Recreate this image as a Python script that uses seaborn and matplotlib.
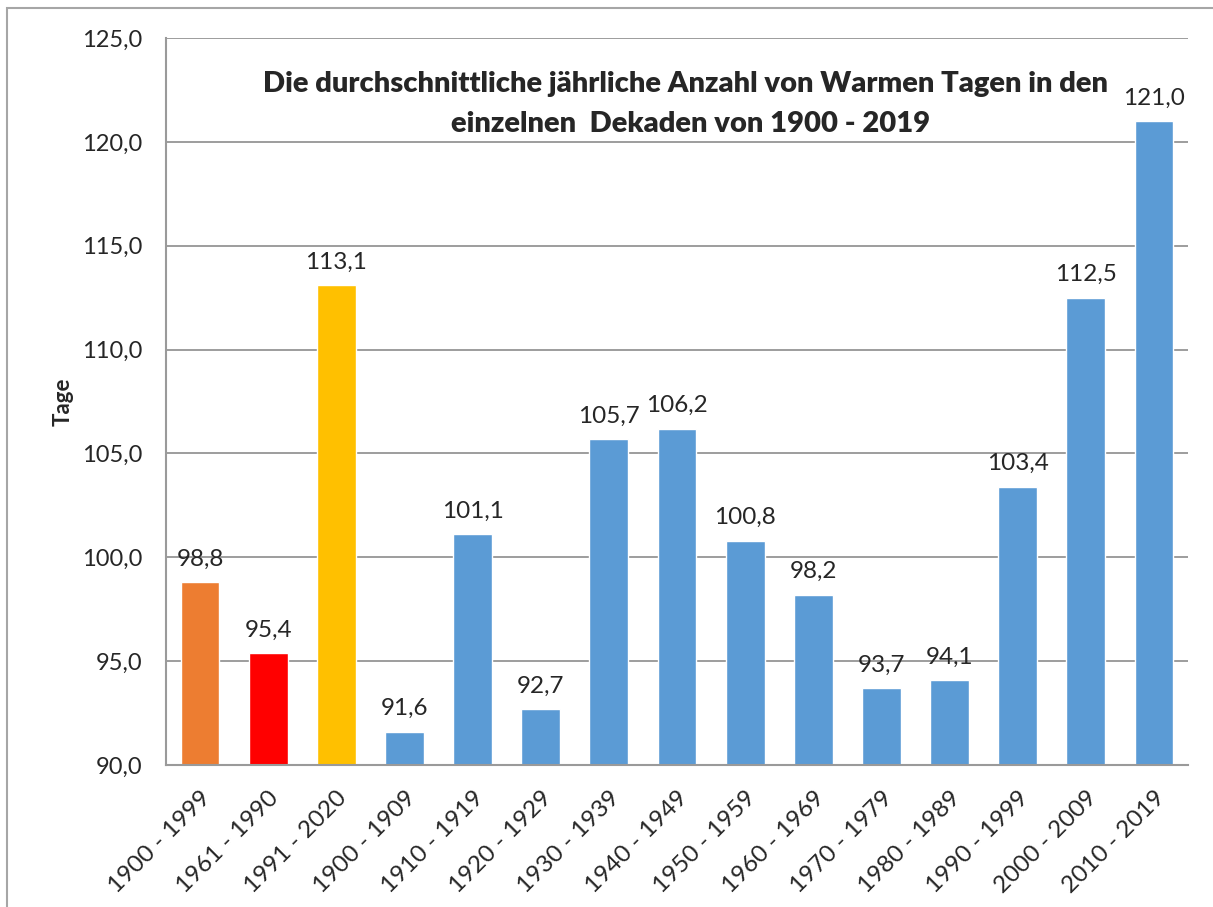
import matplotlib
matplotlib.use('Agg')
import matplotlib.pyplot as plt
import seaborn as sns
import pandas as pd
from matplotlib.patches import Rectangle
from matplotlib.ticker import FuncFormatter

# Data
perioden = ['1900 - 1999', '1961 - 1990', '1991 - 2020', '1900 - 1909', '1910 - 1919',
            '1920 - 1929', '1930 - 1939', '1940 - 1949', '1950 - 1959', '1960 - 1969',
            '1970 - 1979', '1980 - 1989', '1990 - 1999', '2000 - 2009', '2010 - 2019']
tage = [98.8, 95.4, 113.1, 91.6, 101.1, 92.7, 105.7, 106.2, 100.8, 98.2,
        93.7, 94.1, 103.4, 112.5, 121.0]
farben = ['#ED7D31', '#FF0000', '#FFC000'] + ['#5B9BD5'] * 12

df = pd.DataFrame({'Periode': perioden, 'Tage': tage})

sns.set_style('white')
plt.rcParams['font.family'] = ['Lato', 'DejaVu Sans']

fig = plt.figure(figsize=(12.13, 9.07), dpi=100)
ax = fig.add_axes([166 / 1213, 1 - 765 / 907, (1188 - 166) / 1213, (765 - 38) / 907])

sns.barplot(data=df, x='Periode', y='Tage', hue='Periode', palette=farben,
            legend=False, width=0.57, saturation=1, ax=ax)

ax.set_ylim(90, 125)
ax.set_yticks([90, 95, 100, 105, 110, 115, 120, 125])
ax.yaxis.set_major_formatter(FuncFormatter(lambda v, p: f'{v:.1f}'.replace('.', ',')))
ax.grid(axis='y', color='#8c8c8c', linewidth=1.2)
ax.set_axisbelow(True)
for s in ['top', 'right']:
    ax.spines[s].set_visible(False)
for s in ['left', 'bottom']:
    ax.spines[s].set_color('#9a9a9a')
    ax.spines[s].set_linewidth(1.5)

ax.tick_params(axis='y', length=0, pad=17, labelsize=17)
ax.tick_params(axis='x', length=0, pad=16, labelsize=17.5)
for lbl in ax.get_xticklabels():
    lbl.set_rotation(45)
    lbl.set_ha('right')
    lbl.set_rotation_mode('anchor')

ax.set_xlabel('')
ax.set_ylabel('Tage', fontsize=16, fontweight='bold', labelpad=6)

for i, v in enumerate(tage):
    ax.text(i, v + 0.6, f'{v:.1f}'.replace('.', ','), ha='center', va='bottom', fontsize=17.5)

# Titel innerhalb der Zeichenfläche, zwei Zeilen
ax.text(0.508, 0.955, 'Die durchschnittliche jährliche Anzahl von Warmen Tagen in den',
        transform=ax.transAxes, ha='center', va='top', fontsize=21, fontweight='heavy')
ax.text(0.513, 0.9, 'einzelnen  Dekaden von 1900 - 2019',
        transform=ax.transAxes, ha='center', va='top', fontsize=21, fontweight='heavy')

fig.patches.append(Rectangle((7 / 1213, -0.1), 1.2, 0.1 + 1 - 8 / 907, transform=fig.transFigure,
                             fill=False, edgecolor='#a6a6a6', linewidth=1.5))

fig.savefig('out.png', dpi=100)
